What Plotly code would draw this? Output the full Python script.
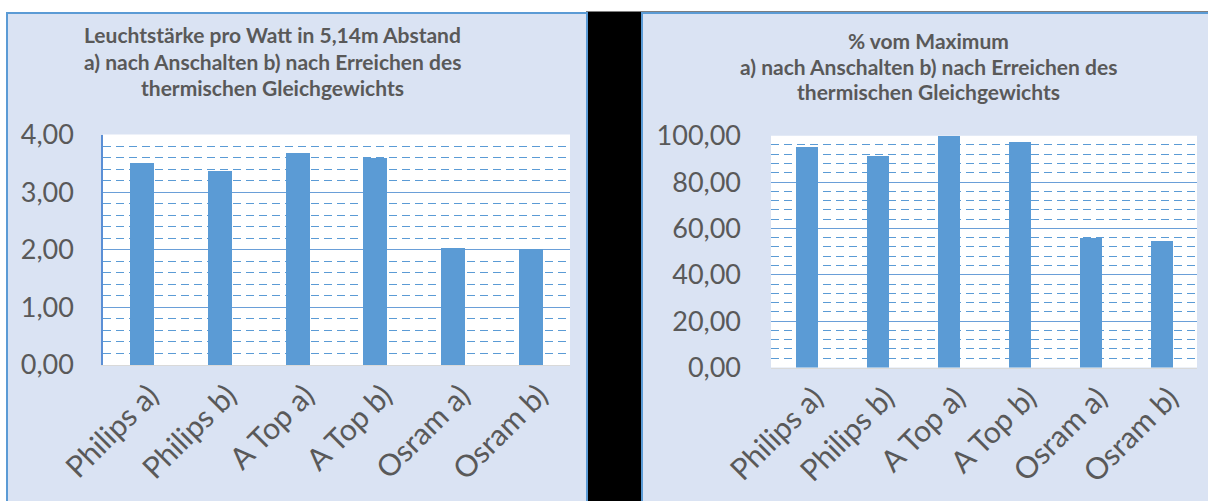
import plotly.graph_objects as go

W, H = 1208, 501

categories = ["Philips a)", "Philips b)", "A Top a)", "A Top b)", "Osram a)", "Osram b)"]
lux_per_watt = [3.52, 3.37, 3.69, 3.60, 2.04, 2.02]
percent_of_max = [95.1, 91.2, 100.0, 97.3, 56.0, 54.9]

left_title = ["Leuchtstärke pro Watt in 5,14m Abstand",
              "a) nach Anschalten b) nach Erreichen des",
              "thermischen Gleichgewichts"]
right_title = ["% vom Maximum",
               "a) nach Anschalten b) nach Erreichen des",
               "thermischen Gleichgewichts"]

BAR = "#5b9bd5"
PANEL = "#dae3f3"
TXT = "#595959"
FONT = "Lato"


def px(x):
    return x / W


def py(y):
    return 1 - y / H


fig = go.Figure()
fig.add_trace(go.Bar(x=categories, y=lux_per_watt, marker=dict(color=BAR, line=dict(width=0)),
                     width=0.31, xaxis="x", yaxis="y", showlegend=False))
fig.add_trace(go.Bar(x=categories, y=percent_of_max, marker=dict(color=BAR, line=dict(width=0)),
                     width=0.31, xaxis="x2", yaxis="y2", showlegend=False))

shapes = [
    dict(type="rect", xref="paper", yref="paper", x0=px(586), x1=px(1215), y0=py(520), y1=py(11.5),
         fillcolor="black", line=dict(width=0), layer="below"),
    dict(type="rect", xref="paper", yref="paper", x0=px(7), x1=px(587), y0=py(520), y1=py(13),
         fillcolor=PANEL, line=dict(color="#5b9bd5", width=2), layer="below"),
    dict(type="rect", xref="paper", yref="paper", x0=px(642), x1=px(1230), y0=py(520), y1=py(13),
         fillcolor=PANEL, line=dict(color="#5b9bd5", width=2), layer="below"),
    dict(type="rect", xref="x domain", yref="y domain", x0=0, x1=1, y0=0, y1=1,
         fillcolor="white", line=dict(width=0), layer="below"),
    dict(type="rect", xref="x2 domain", yref="y2 domain", x0=0, x1=1, y0=0, y1=1,
         fillcolor="white", line=dict(width=0), layer="below"),
]

annotations = []
for t, yy in zip(left_title, [35, 61, 87]):
    annotations.append(dict(text=t, xref="paper", yref="paper", x=px(272), y=py(yy),
                            xanchor="center", yanchor="middle", showarrow=False,
                            font=dict(family=FONT, size=21, color=TXT, weight="bold")))
for t, yy in zip(right_title, [41, 67, 92]):
    annotations.append(dict(text=t, xref="paper", yref="paper", x=px(928), y=py(yy),
                            xanchor="center", yanchor="middle", showarrow=False,
                            font=dict(family=FONT, size=21, color=TXT, weight="bold")))

xcommon = dict(type="category", showgrid=False, tickangle=-45, ticks="",
               tickfont=dict(family=FONT, size=30, color=TXT), automargin=False,
               ticklabelshift=8,
               showline=True, linecolor="#d9d9d9", linewidth=1, fixedrange=True)

fig.update_layout(
    width=W, height=H,
    margin=dict(l=0, r=0, t=0, b=0, autoexpand=False),
    paper_bgcolor="white",
    plot_bgcolor="white",
    separators=",.",
    bargap=0.0,
    shapes=shapes,
    annotations=annotations,
    xaxis=dict(domain=[px(103), px(570)], anchor="y", **xcommon),
    xaxis2=dict(domain=[px(771), px(1197)], anchor="y2", **xcommon),
    yaxis=dict(domain=[py(365), py(134.5)], anchor="x", range=[0, 4], dtick=1,
               tickformat=".2f", showgrid=True, gridcolor="#6a9fd8", gridwidth=1,
               minor=dict(dtick=0.2, showgrid=True, gridcolor=BAR, griddash="8px,5px", gridwidth=1),
               showline=True, linecolor="#5b8fd5", linewidth=1.5, zeroline=False,
               ticks="", ticklabelstandoff=22, automargin=False,
               tickfont=dict(family=FONT, size=27, color=TXT), fixedrange=True),
    yaxis2=dict(domain=[py(367.5), py(135.7)], anchor="x2", range=[0, 100], dtick=20,
                tickformat=".2f", showgrid=True, gridcolor="#6a9fd8", gridwidth=1,
                minor=dict(dtick=4, showgrid=True, gridcolor=BAR, griddash="8px,5px", gridwidth=1),
                showline=False, zeroline=False,
                ticks="", ticklabelstandoff=29, automargin=False,
                tickfont=dict(family=FONT, size=27, color=TXT), fixedrange=True),
)

fig.write_html("out.html", config={"displayModeBar": False},
               post_script="document.body.style.margin='0px';")
